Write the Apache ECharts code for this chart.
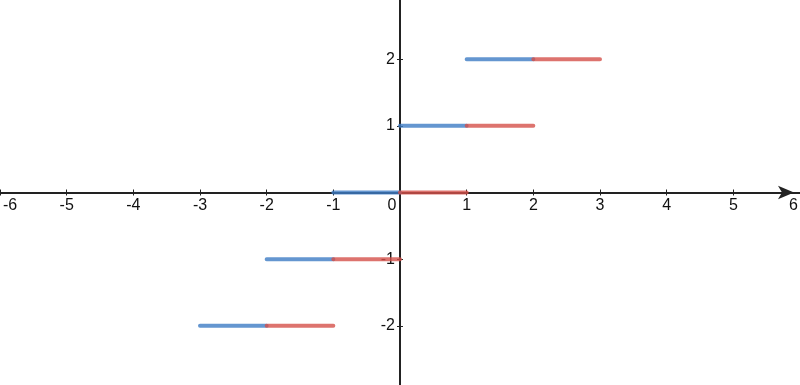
<!DOCTYPE html>
<html><head><meta charset="utf-8">
<script src="https://cdn.jsdelivr.net/npm/echarts@6/dist/echarts.min.js"></script>
<style>html,body{margin:0;padding:0;background:#fff}#c{width:800px;height:385px}</style>
</head><body><div id="c"></div>
<script>
const levels = [-2, -1, 0, 1, 2];
const blueFrom = [-3, -2, -1, 0, 1];
const blueTo = [-2, -1, 0, 1, 2];
const redFrom = [-2, -1, 0, 1, 2];
const redTo = [-1, 0, 1, 2, 3];
const xTicks = [-6, -5, -4, -3, -2, -1, 0, 1, 2, 3, 4, 5, 6];
const yTicks = [-2, -1, 1, 2];

function segs(from, to) {
  const d = [];
  levels.forEach((y, i) => { d.push([from[i], y], [to[i], y], [null, null]); });
  return d;
}
const font = { fontFamily: 'Liberation Sans', fontSize: 16, color: '#111' };
const axisCol = '#222';
const W = 800, H = 385;
const chart = echarts.init(document.getElementById('c'));
const tickStyle = { color: axisCol, width: 1 };
const richBase = { fontFamily: 'Liberation Sans', fontSize: 16, color: '#111' };
chart.setOption({
  animation: false,
  grid: { left: 0, right: 0, top: 0, bottom: 0, containLabel: false, outerBoundsMode: 'none' },
  xAxis: [{
    type: 'value', min: -6, max: 6, interval: 1, position: 'bottom', offset: -H / 2,
    axisLine: { onZero: false, lineStyle: { color: axisCol, width: 2 }, symbol: ['none', 'arrow'], symbolSize: [10, 16], symbolOffset: [0, -6] },
    axisTick: { show: true, length: 3, lineStyle: tickStyle, customValues: xTicks },
    axisLabel: Object.assign({ margin: 5, showMinLabel: true, showMaxLabel: true, customValues: xTicks,
      formatter: v => v === 0 ? '{z|0}' : v === xTicks[0] ? '{l|' + v + '}' : v === xTicks[xTicks.length - 1] ? '{r|' + v + '}' : String(v),
      rich: {
        z: Object.assign({ padding: [0, 16, 0, 0] }, richBase),
        l: Object.assign({ padding: [0, 0, 0, 20] }, richBase),
        r: Object.assign({ padding: [0, 13, 0, 0] }, richBase)
      } }, font),
    splitLine: { show: false }
  }, {
    type: 'value', min: -6, max: 6, interval: 1, position: 'bottom', offset: -H / 2,
    axisLine: { onZero: false, show: false },
    axisTick: { show: true, inside: true, length: 3, lineStyle: tickStyle, customValues: xTicks },
    axisLabel: { show: false },
    splitLine: { show: false }
  }],
  yAxis: [{
    type: 'value', min: -2.8875, max: 2.8875, position: 'left', offset: -W / 2,
    axisLine: { onZero: false, lineStyle: { color: axisCol, width: 2 } },
    axisTick: { show: true, length: 3, lineStyle: tickStyle, customValues: yTicks },
    axisLabel: Object.assign({ margin: 5, customValues: yTicks }, font),
    splitLine: { show: false }
  }, {
    type: 'value', min: -2.8875, max: 2.8875, position: 'left', offset: -W / 2,
    axisLine: { onZero: false, show: false },
    axisTick: { show: true, inside: true, length: 3, lineStyle: tickStyle, customValues: yTicks },
    axisLabel: { show: false },
    splitLine: { show: false }
  }],
  series: [{
    type: 'line', data: segs(blueFrom, blueTo), showSymbol: false, connectNulls: false,
    lineStyle: { color: '#3d7cc4', width: 4, opacity: 0.8, cap: 'round' }, z: 3
  }, {
    type: 'line', data: segs(redFrom, redTo), showSymbol: false, connectNulls: false,
    lineStyle: { color: '#d4504a', width: 4, opacity: 0.8, cap: 'round' }, z: 3
  }]
});
</script></body></html>
